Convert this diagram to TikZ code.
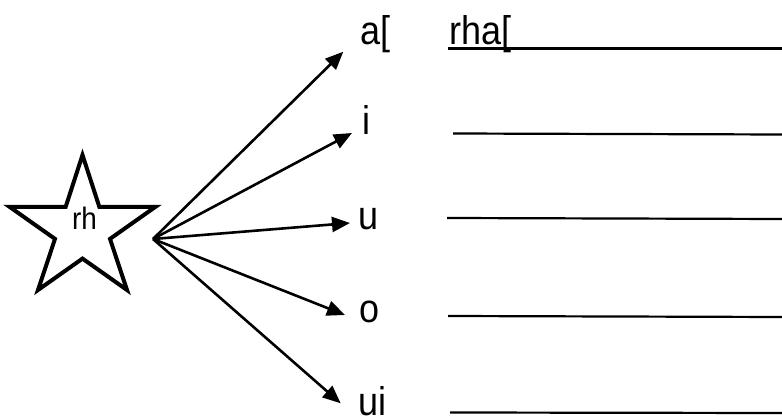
\documentclass[tikz,border=0pt]{standalone}
\usepackage{fontspec}
\setmainfont[FakeStretch=0.9]{Liberation Sans}
\usetikzlibrary{arrows.meta}
\tikzset{
  lbl/.style={anchor=base west, inner sep=0pt, font=\fontsize{40}{44}\selectfont},
  starlbl/.style={anchor=base west, inner sep=0pt, font=\fontsize{31}{36}\selectfont},
  starline/.style={line width=4pt, line join=miter},
  ray/.style={line width=2.6pt, -{Triangle[length=18pt,width=15pt]}},
  rule/.style={line width=2.2pt},
}
\begin{document}
\begin{tikzpicture}[x=1pt,y=-1pt]
\useasboundingbox[fill=white] (0,0) rectangle (782,419);
% star
\draw[starline] (82.5,155) -- (99.3,206.8) -- (155.5,206.8) -- (110,238.9)
  -- (127,290) -- (82.5,258.6) -- (38,290) -- (55,238.9) -- (9.5,206.8)
  -- (65.7,206.8) -- cycle;
\node[starlbl] (rh) at (72,230) {rh};
% source and tips
\coordinate (src) at (153,239);
\coordinate (tA) at (343.3,51.7);
\coordinate (tI) at (352,133);
\coordinate (tU) at (350,223);
\coordinate (tO) at (345,315);
\coordinate (tUi) at (340.7,403.3);
% labels
\node[lbl] (a) at (360,45) {a[};
\node[lbl] (i) at (362,135) {i};
\node[lbl] (u) at (358,230) {u};
\node[lbl] (o) at (359,323) {o};
\node[lbl] (ui) at (358,416) {ui};
\node[lbl] (rha) at (449,45) {rha[};
% arrows
\draw[ray] (src) -- (tA);
\draw[ray] (src) -- (tI);
\draw[ray] (src) -- (tU);
\draw[ray] (src) -- (tO);
\draw[ray] (src) -- (tUi);
% answer lines
\draw[rule] (448,48.5) -- (782,48.5);
\draw[rule] (453,133.5) -- (782,134.5);
\draw[rule] (447,218) -- (782,219);
\draw[rule] (448,316) -- (782,317);
\draw[rule] (450,412.5) -- (782,413);
\end{tikzpicture}
\end{document}
